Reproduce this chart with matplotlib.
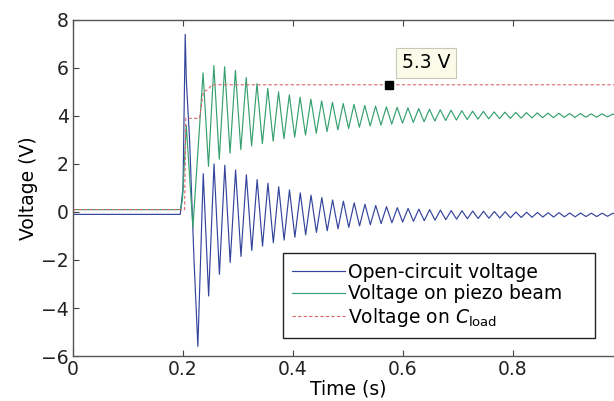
import numpy as np
import matplotlib
matplotlib.use("Agg")
import matplotlib.pyplot as plt

# ---- data ----
# open-circuit voltage: lead-in samples, then alternating trough/peak values
blue_t_start = [0.0, 0.195, 0.200, 0.204, 0.206, 0.212, 0.220]
blue_v_start = [-0.1, -0.1, 1.0, 7.4, 5.5, 3.0, -2.0]
blue_troughs = [-5.6, -3.5, -2.6, -2.1, -1.85, -1.6, -1.42, -1.28, -1.17, -1.05,
                -0.95, -0.85, -0.78, -0.7, -0.64, -0.58, -0.53, -0.48, -0.45, -0.42,
                -0.39, -0.36, -0.34, -0.32, -0.3, -0.28, -0.27, -0.26, -0.25, -0.24,
                -0.23, -0.22, -0.21, -0.21, -0.2, -0.2, -0.19, -0.19, -0.18, -0.18]
blue_peaks = [1.6, 2.0, 1.95, 1.75, 1.55, 1.35, 1.2, 1.05, 0.92, 0.8,
              0.7, 0.6, 0.5, 0.45, 0.38, 0.32, 0.27, 0.22, 0.18, 0.15,
              0.12, 0.1, 0.08, 0.06, 0.05, 0.04, 0.03, 0.02, 0.01, 0.0,
              -0.01, -0.02, -0.03, -0.03, -0.04, -0.04, -0.05, -0.05, -0.05, -0.05]
blue_first_trough = 0.227

# voltage on piezo beam
green_t_start = [0.0, 0.195, 0.199, 0.206, 0.218]
green_v_start = [0.1, 0.1, 0.5, 3.6, -0.65]
green_peaks = [5.8, 6.1, 6.05, 5.9, 5.6, 5.35, 5.15, 5.0, 4.88, 4.78,
               4.7, 4.63, 4.57, 4.52, 4.48, 4.44, 4.41, 4.38, 4.36, 4.34,
               4.31, 4.28, 4.26, 4.24, 4.22, 4.2, 4.19, 4.17, 4.16, 4.15,
               4.14, 4.13, 4.12, 4.11, 4.1, 4.1, 4.09, 4.09, 4.08, 4.08]
green_troughs = [1.9, 2.2, 2.45, 2.6, 2.75, 2.85, 2.95, 3.05, 3.12, 3.2,
                 3.28, 3.35, 3.42, 3.48, 3.53, 3.58, 3.62, 3.66, 3.7, 3.73,
                 3.76, 3.79, 3.81, 3.83, 3.85, 3.87, 3.88, 3.89, 3.9, 3.91,
                 3.92, 3.93, 3.93, 3.94, 3.94, 3.95, 3.95, 3.96, 3.96, 3.96]
green_first_peak = 0.2365

period = 0.0196  # oscillation period read from peak spacing

# voltage on C_load (steps)
red_t = [0.0, 0.203, 0.205, 0.230, 0.237, 0.245, 0.253, 1.0]
red_v = [0.1, 0.1, 3.9, 3.9, 5.0, 5.1, 5.3, 5.3]

tip_t, tip_v = 0.575, 5.3
tip_label = "5.3 V"

xticks = [0, 0.2, 0.4, 0.6, 0.8]
yticks = [-6, -4, -2, 0, 2, 4, 6, 8]


def interleave(t0, first, second):
    # extremes alternate every half period
    n = len(first)
    t = np.empty(2 * n)
    v = np.empty(2 * n)
    t[0::2] = t0 + np.arange(n) * period
    t[1::2] = t0 + period / 2 + np.arange(n) * period
    v[0::2] = first
    v[1::2] = second
    return t, v


bt, bv = interleave(blue_first_trough, blue_troughs, blue_peaks)
blue_t = np.concatenate([blue_t_start, bt])
blue_v = np.concatenate([blue_v_start, bv])

gt, gv = interleave(green_first_peak, green_peaks, green_troughs)
green_t = np.concatenate([green_t_start, gt])
green_v = np.concatenate([green_v_start, gv])

plt.rcParams['font.family'] = ['DejaVu Sans']
plt.rcParams['font.size'] = 13.5

fig = plt.figure(figsize=(6.14, 4.01), dpi=100)
ax = fig.add_axes([0.1189, 0.1122, 0.8958, 0.838])

ax.plot(blue_t, blue_v, color='#34449c', lw=0.85, label='Open-circuit voltage')
ax.plot(green_t, green_v, color='#36a070', lw=0.85, label='Voltage on piezo beam')
ax.plot(red_t, red_v, color='#d9666e', lw=0.8, dashes=(3, 2),
        label=r'Voltage on $C_{\rm load}$')

ax.plot([tip_t], [tip_v], marker='s', color='black', ms=6, ls='none')
ax.text(0.642, 6.22, tip_label, ha='center', va='center', fontsize=13.5,
        bbox=dict(boxstyle='square,pad=0.3', fc='#fbfbea', ec='#c8c8b8', lw=0.8))

ax.set_xlim(0, 1)
ax.set_ylim(-6, 8)
ax.set_xticks(xticks)
ax.set_yticks(yticks)
ax.set_xticklabels(['0', '0.2', '0.4', '0.6', '0.8'])
ax.tick_params(direction='in', length=4, width=0.8, top=True, right=True,
               colors='#444444', labelcolor='#222222', pad=3)
for s in ax.spines.values():
    s.set_color('#555555')
    s.set_linewidth(1.0)

ax.set_xlabel('Time (s)', labelpad=0)
ax.set_ylabel('Voltage (V)', labelpad=2)

leg = ax.legend(loc='lower left', bbox_to_anchor=(0.382, 0.0536, 0.567, 0.25),
                mode='expand', borderaxespad=0,
                fancybox=False, framealpha=1, edgecolor='#222222',
                handlelength=2.8, handletextpad=0.15, labelspacing=0.13,
                borderpad=0.5, fontsize=13.5)
leg.get_frame().set_linewidth(1.0)

fig.savefig('out.png', dpi=100)
